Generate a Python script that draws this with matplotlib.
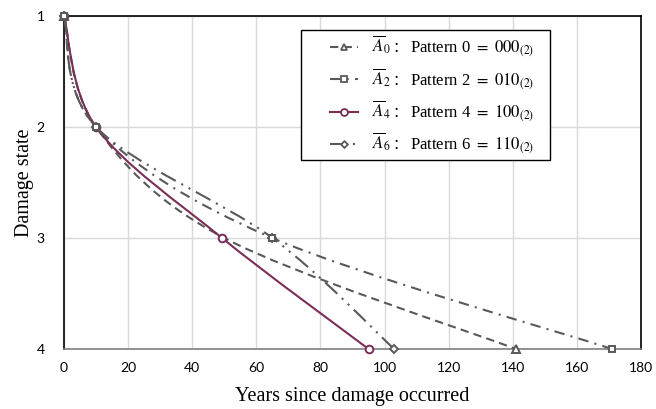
import matplotlib
matplotlib.use("Agg")
import matplotlib.pyplot as plt
import numpy as np
from matplotlib.path import Path
from matplotlib.patches import PathPatch, Rectangle
from matplotlib.lines import Line2D

# ---- data ----
states = [1, 2, 3, 4]
years_A0 = [0, 10, 50, 141]
years_A2 = [0, 10, 65, 171]
years_A4 = [0, 10, 49.3, 95]
years_A6 = [0, 10, 65, 103]

label_sym = [r"$\overline{A}_0$", r"$\overline{A}_2$", r"$\overline{A}_4$", r"$\overline{A}_6$"]
label_txt = [
    r"Pattern 0 $=$ $000_{(2)}$",
    r"Pattern 2 $=$ $010_{(2)}$",
    r"Pattern 4 $=$ $100_{(2)}$",
    r"Pattern 6 $=$ $110_{(2)}$",
]
xticks = [0, 20, 40, 60, 80, 100, 120, 140, 160, 180]
yticks = [1, 2, 3, 4]

plt.rcParams['mathtext.fontset'] = 'stix'
plt.rcParams['font.family'] = ['Liberation Serif', 'Noto Sans CJK SC', 'DejaVu Sans']

GRAY = '#595959'
PURPLE = '#7b2d58'

W, H = 656, 409
fig = plt.figure(figsize=(W / 100, H / 100), dpi=100)
AX_L, AX_R, AX_T, AX_B = 64, 641, 16, 349
ax = fig.add_axes([AX_L / W, 1 - AX_B / H, (AX_R - AX_L) / W, (AX_B - AX_T) / H])


def fx(px):
    return (px - AX_L) / (AX_R - AX_L)


def fy(py):
    return 1 - (py - AX_T) / (AX_B - AX_T)


def smooth_path(xs, ys):
    """Excel-style smoothed line (Catmull-Rom as cubic Bezier)."""
    pts = np.column_stack([xs, ys]).astype(float)
    n = len(pts)
    verts = [pts[0]]
    codes = [Path.MOVETO]
    for i in range(n - 1):
        p0 = pts[i - 1] if i > 0 else pts[i]
        p1 = pts[i]
        p2 = pts[i + 1]
        p3 = pts[i + 2] if i + 2 < n else pts[i + 1]
        c1 = p1 + (p2 - p0) / 6.0
        c2 = p2 - (p3 - p1) / 6.0
        verts += [c1, c2, p2]
        codes += [Path.CURVE4] * 3
    return Path(verts, codes)


series = [
    dict(x=years_A0, color=GRAY, ls=(0, (4, 2.5)), marker='^', ms=5.5, z=3, mev=[0, 3]),
    dict(x=years_A2, color=GRAY, ls=(0, (5, 3, 1, 3)), marker='s', ms=5, z=6, mev=None),
    dict(x=years_A4, color=PURPLE, ls='-', marker='o', ms=5.5, z=4, mev=None),
    dict(x=years_A6, color=GRAY, ls=(0, (8, 3, 1, 3, 1, 3)), marker='D', ms=3.8, z=5, mev=None),
]

for s in series:
    patch = PathPatch(smooth_path(s['x'], states), facecolor='none', edgecolor=s['color'],
                      lw=1.5, linestyle=s['ls'], zorder=s['z'], capstyle='butt')
    ax.add_patch(patch)
    ax.plot(s['x'], states, linestyle='none', marker=s['marker'], ms=s['ms'],
            mfc='white', mec=s['color'], mew=1.4, markevery=s['mev'], zorder=s['z'] + 0.5,
            clip_on=False)

ax.set_xlim(0, 180)
ax.set_ylim(4, 1)
ax.set_xticks(xticks)
ax.set_yticks(yticks)
ax.grid(True, color='#d9d9d9', lw=1)
ax.set_axisbelow(True)
for sp in ax.spines.values():
    sp.set_color('black')
    sp.set_linewidth(1.2)
ax.spines['bottom'].set_color('#7f7f7f')

ax.tick_params(length=0, labelsize=10)
for t in ax.get_xticklabels() + ax.get_yticklabels():
    t.set_fontfamily('Lato')
ax.tick_params(axis='x', pad=9)
ax.tick_params(axis='y', pad=14)

ax.set_xlabel('Years since damage occurred', fontsize=14.5, labelpad=10)
ax.set_ylabel('Damage state', fontsize=14.5, labelpad=2)

# ---- legend (drawn manually so the full-width colon can use a CJK font) ----
ax.add_patch(Rectangle((fx(301), fy(160)), fx(550) - fx(301), fy(30) - fy(160),
                       transform=ax.transAxes, facecolor='white', edgecolor='black',
                       lw=1.0, zorder=20, clip_on=False))
row_mid = [47, 79, 112, 144]
row_base = [52, 85, 117, 149]
for s, sym, txt, ym, yb in zip(series, label_sym, label_txt, row_mid, row_base):
    ax.add_line(Line2D([fx(330), fx(358)], [fy(ym), fy(ym)], transform=ax.transAxes,
                       color=s['color'], lw=1.5, linestyle=s['ls'], zorder=21,
                       clip_on=False))
    ax.add_line(Line2D([fx(344)], [fy(ym)], transform=ax.transAxes, linestyle='none',
                       marker=s['marker'], ms=s['ms'] * 0.9, mfc='white', mec=s['color'],
                       mew=1.3, zorder=22, clip_on=False))
    ax.text(fx(372), fy(yb), sym, transform=ax.transAxes, fontsize=12, va='baseline',
            ha='left', zorder=23)
    ax.text(fx(400), fy(yb), "：", transform=ax.transAxes, fontsize=10.5, va='baseline',
            ha='center', family=['Noto Sans CJK SC', 'DejaVu Sans'], zorder=23)
    ax.text(fx(410), fy(yb), txt, transform=ax.transAxes, fontsize=12, va='baseline',
            ha='left', zorder=23)

fig.savefig('out.png', dpi=100)
